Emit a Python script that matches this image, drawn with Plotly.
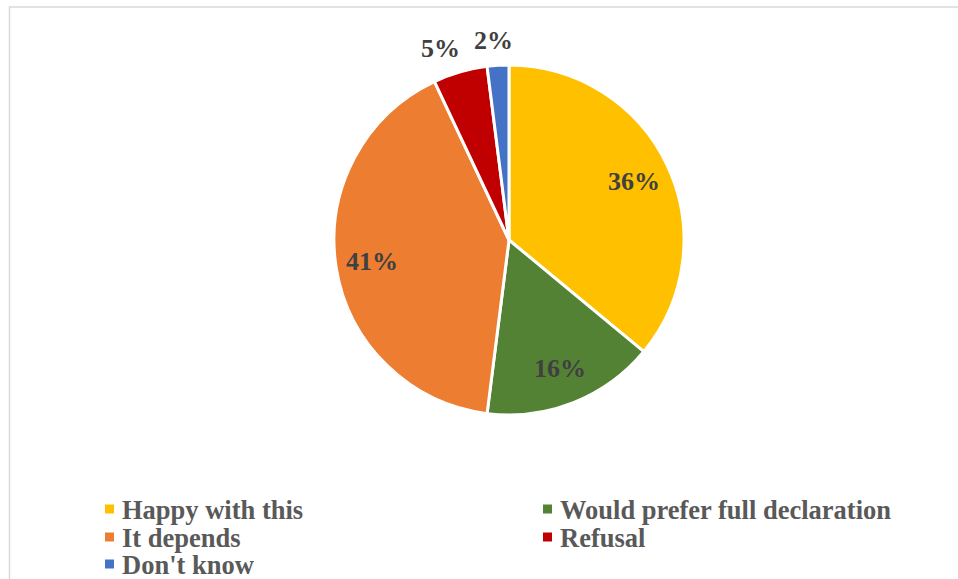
import math
import plotly.graph_objects as go

# Survey responses (share of respondents, %)
categories = ["Happy with this", "Would prefer full declaration", "It depends", "Refusal", "Don't know"]
shares = [36, 16, 41, 5, 2]
colors = ["#FFC000", "#548235", "#ED7D31", "#C00000", "#4472C4"]
# small slices get their label outside the pie
label_inside = [True, True, True, False, False]

W, H = 958, 579
CX, CY, R = 509, 240, 175          # pie centre / radius in pixels
LABEL_FONT = dict(family="Liberation Serif", size=26, color="#404040", weight="bold")
LEGEND_FONT = dict(family="Liberation Serif", size=26.5, color="#595959", weight="bold")

total = sum(shares)
pct_text = [f"{round(100 * v / total)}%" for v in shares]

fig = go.Figure(
    go.Pie(
        labels=categories,
        values=shares,
        sort=False,
        direction="clockwise",
        rotation=0,
        marker=dict(colors=colors, line=dict(color="white", width=3)),
        textposition="none",
        hovertemplate="%{label}: %{percent:.0%}<extra></extra>",
        domain=dict(x=[(CX - R) / W, (CX + R) / W],
                    y=[1 - (CY + R) / H, 1 - (CY - R) / H]),
        showlegend=False,
    )
)

annotations = []

# percentage labels, placed along the middle angle of each slice
cum = 0
for v, txt, inside in zip(shares, pct_text, label_inside):
    mid = (cum + v / 2) / total * 2 * math.pi
    cum += v
    s, c = math.sin(mid), math.cos(mid)
    rr = R * (0.79 if inside else 1.14)
    px = CX + rr * s
    py = CY - rr * c
    annotations.append(dict(
        x=px / W, y=1 - py / H, xref="paper", yref="paper",
        text=txt, showarrow=False, font=LABEL_FONT,
        xanchor="center", yanchor="middle",
        xshift=0 if inside else s * 45,
    ))

# legend: two columns, filled row by row
shapes = [
    dict(type="rect", xref="paper", yref="paper",
         x0=9.5 / W, x1=1.05, y0=-0.05, y1=1 - 7 / H,
         line=dict(color="#D9D9D9", width=1.5), fillcolor="rgba(0,0,0,0)")
]
col_x = [105, 543]
row_y = [509, 537, 564]
key = 9
for i, (name, col) in enumerate(zip(categories, colors)):
    kx = col_x[i % 2]
    ky = row_y[i // 2]
    shapes.append(dict(
        type="rect", xref="paper", yref="paper",
        x0=kx / W, x1=(kx + key) / W,
        y0=1 - (ky + key / 2) / H, y1=1 - (ky - key / 2) / H,
        fillcolor=col, line=dict(width=0),
    ))
    annotations.append(dict(
        x=(kx + key + 6) / W, y=1 - (ky + 1) / H, xref="paper", yref="paper",
        text=name, showarrow=False, font=LEGEND_FONT,
        xanchor="left", yanchor="middle",
    ))

fig.update_layout(
    width=W,
    height=H,
    margin=dict(l=0, r=0, t=0, b=0, autoexpand=False),
    paper_bgcolor="white",
    plot_bgcolor="white",
    showlegend=False,
    shapes=shapes,
    annotations=annotations,
)

fig.write_html("out.html")
